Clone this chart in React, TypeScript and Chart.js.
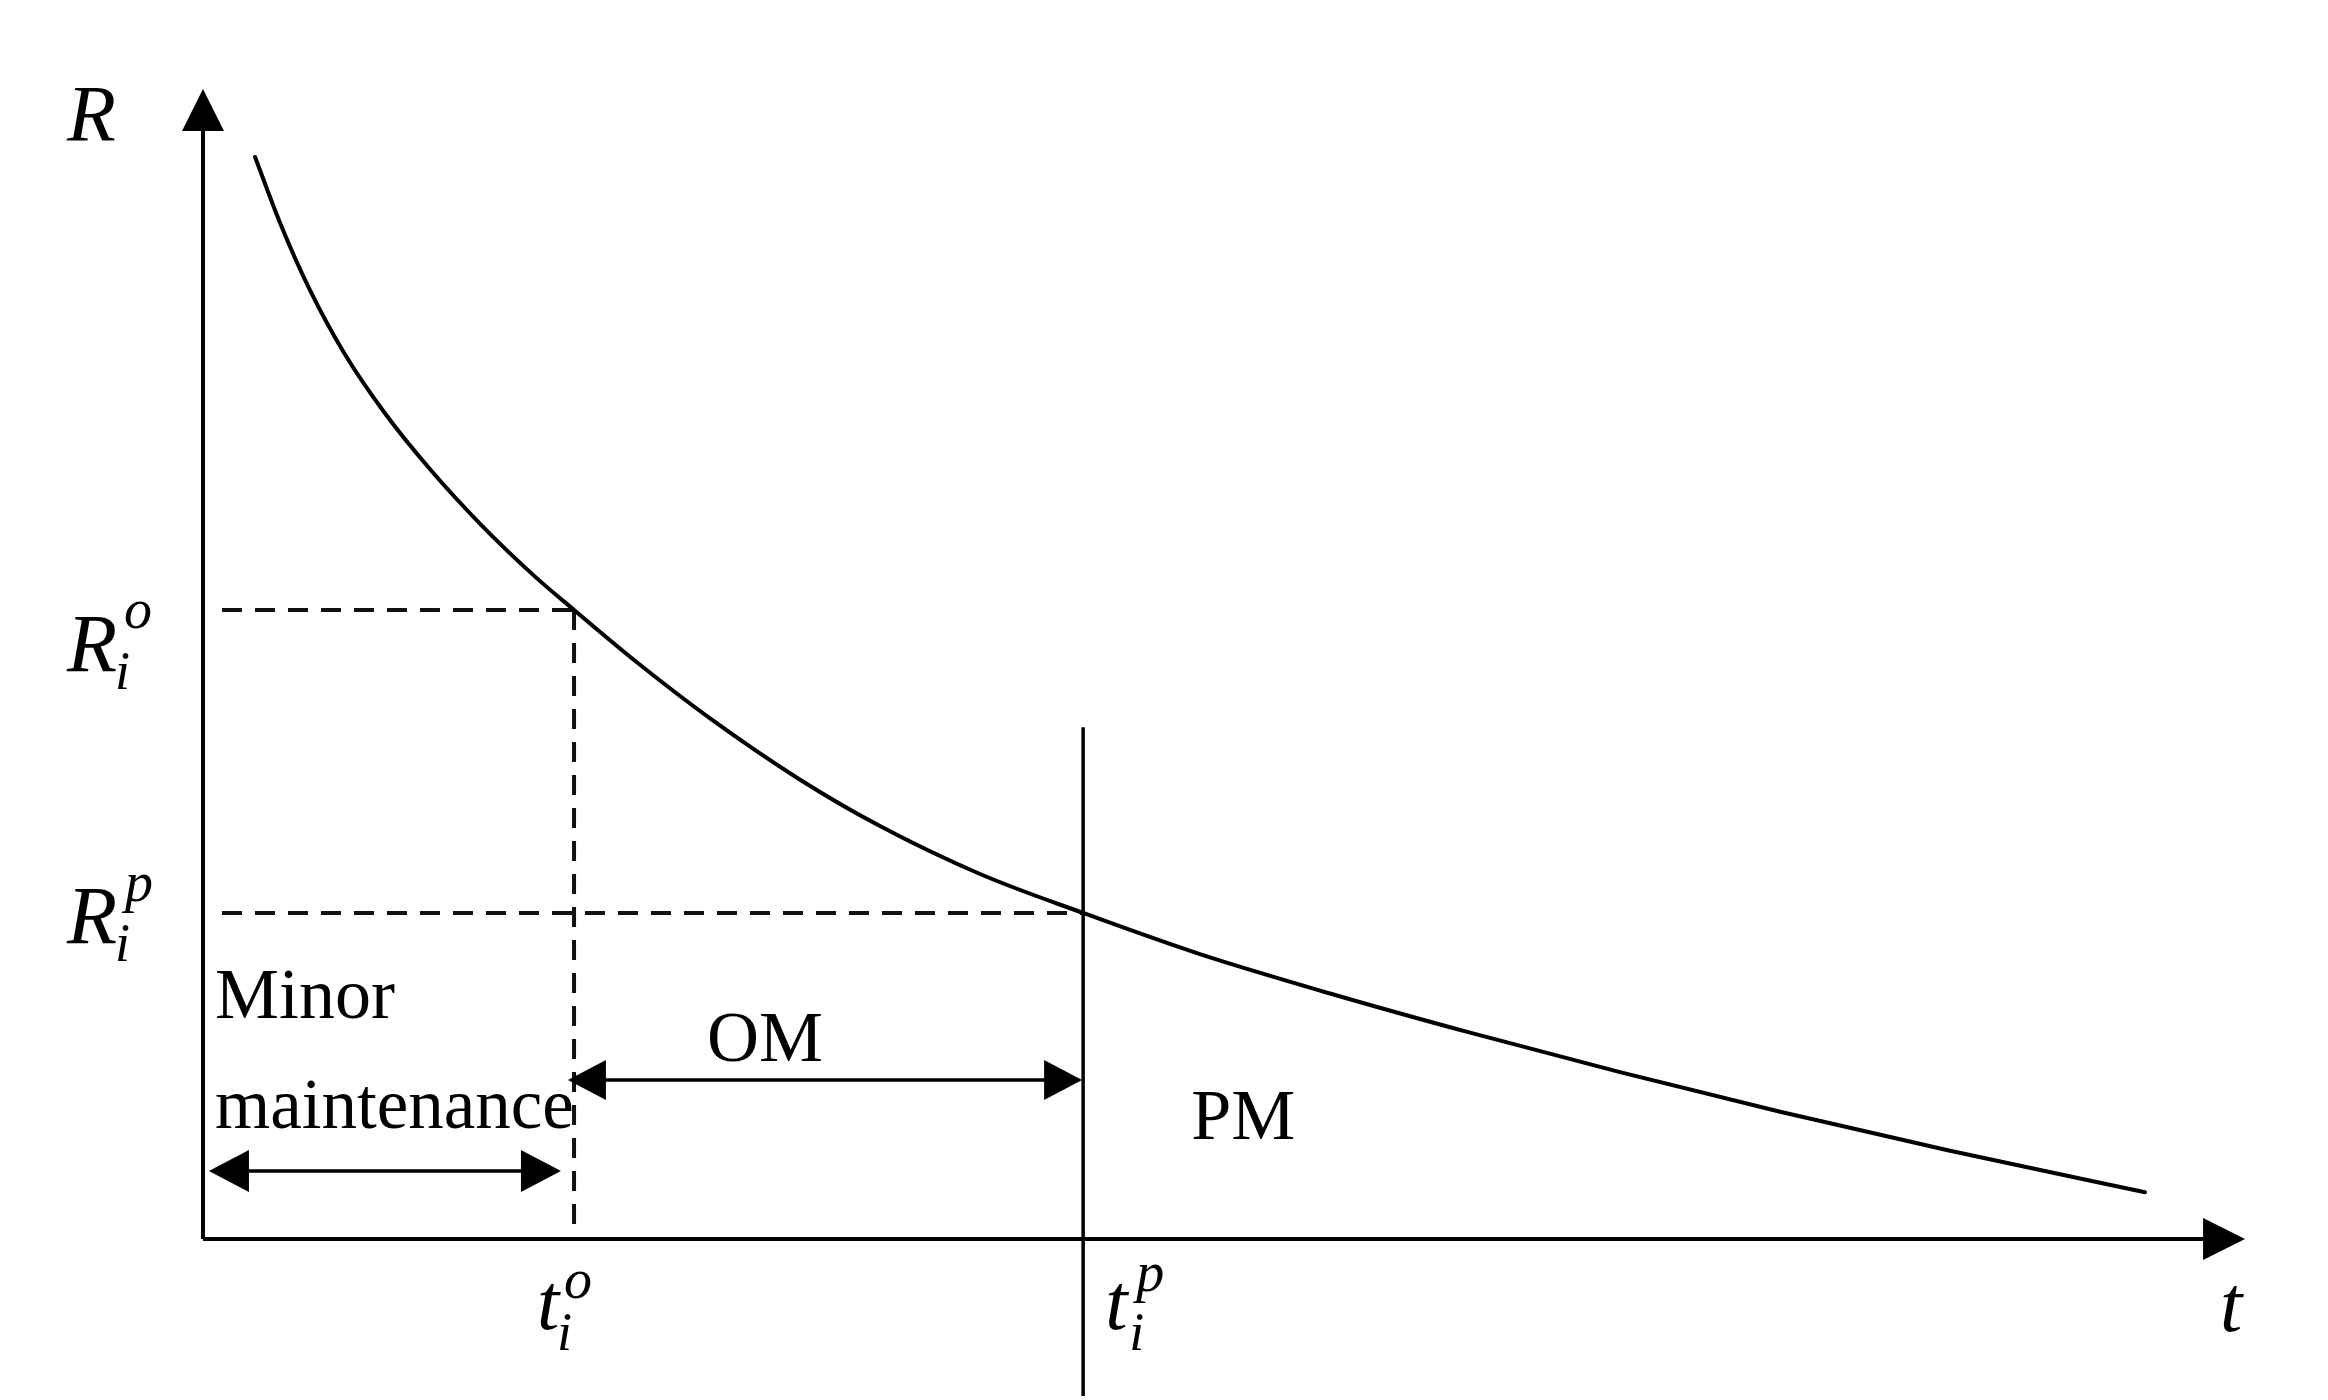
import React, { useEffect, useRef } from 'react';
import { Chart, registerables } from 'chart.js';

Chart.register(...registerables);

// Reliability curve R(t) (t and R in percent of axis length)
const curveT = [2.55, 3.77, 5.24, 6.95, 8.91, 11.12, 13.57, 16.26, 18.17, 21.4, 24.83, 29.24, 33.15, 38.05, 43.1, 48.82, 55.19, 62.05, 69.39, 77.23, 85.55, 95.1];
const curveR = [94.09, 88.38, 82.51, 76.93, 71.8, 66.93, 62.19, 57.6, 54.7, 49.93, 45.27, 39.94, 35.91, 31.74, 28.35, 24.77, 21.35, 17.94, 14.51, 11.07, 7.67, 4.07];

// Thresholds
const tO = 18.17;
const rO = 54.7;
const tP = 43.1;
const rP = 28.35;

// Axis extents
const tMax = 100;
const rMax = 100;
const dashStartT = 0.93;
const pmLineR = [44.5, -13.65];

// Interval arrows
const omArrowT = [17.87, 43.05];
const omArrowR = 13.83;
const minorArrowT = [0.29, 17.53];
const minorArrowR = 5.91;

// Text
const axisLabels = { r: 'R', t: 't' };
const regionLabels = { minor1: 'Minor', minor2: 'maintenance', om: 'OM', pm: 'PM' };
const thresholdLabels = { main: ['R', 'R', 't', 't'], sup: ['o', 'p', 'o', 'p'], sub: ['i', 'i', 'i', 'i'] };

const SERIF = '"Liberation Serif", "Times New Roman", serif';

const schematicPlugin = {
  id: 'schematic',
  afterDatasetsDraw(chart: any) {
    const ctx = chart.ctx as CanvasRenderingContext2D;
    const xs = chart.scales.x;
    const ys = chart.scales.y;
    const X = (v: number) => xs.getPixelForValue(v);
    const Y = (v: number) => ys.getPixelForValue(v);
    ctx.save();
    ctx.fillStyle = '#000';
    const tri = (p: number[][]) => {
      ctx.beginPath();
      ctx.moveTo(p[0][0], p[0][1]);
      ctx.lineTo(p[1][0], p[1][1]);
      ctx.lineTo(p[2][0], p[2][1]);
      ctx.closePath();
      ctx.fill();
    };
    const ox = X(0);
    const oy = Y(0);
    const yTip = Y(rMax);
    const xTip = X(tMax);
    // axis arrowheads
    tri([[ox, yTip], [ox - 21, yTip + 42], [ox + 21, yTip + 42]]);
    tri([[xTip, oy], [xTip - 42, oy - 21], [xTip - 42, oy + 21]]);
    // double arrows
    const dbl = (t0: number, t1: number, r: number, len: number, hw: number) => {
      const y = Y(r);
      const a = X(t0);
      const b = X(t1);
      tri([[a, y], [a + len, y - hw], [a + len, y + hw]]);
      tri([[b, y], [b - len, y - hw], [b - len, y + hw]]);
    };
    dbl(omArrowT[0], omArrowT[1], omArrowR, 38, 20);
    dbl(minorArrowT[0], minorArrowT[1], minorArrowR, 40, 21);

    ctx.textAlign = 'left';
    ctx.textBaseline = 'alphabetic';
    const it = (s: number) => `italic ${s}px ${SERIF}`;
    const up = (s: number) => `${s}px ${SERIF}`;
    const text = (s: string, font: string, x: number, y: number) => {
      ctx.font = font;
      ctx.fillText(s, x, y);
    };
    // axis labels
    text(axisLabels.r, it(80), ox - 136, yTip + 52);
    text(axisLabels.t, it(80), xTip - 25, oy + 92);

    // R_i^o
    const yo = Y(rO);
    text(thresholdLabels.main[0], it(82), ox - 136, yo + 61);
    text(thresholdLabels.sub[0], it(54), ox - 88, yo + 79);
    text(thresholdLabels.sup[0], it(56), ox - 79, yo + 18);
    // R_i^p
    const yp = Y(rP);
    text(thresholdLabels.main[1], it(82), ox - 136, yp + 30);
    text(thresholdLabels.sub[1], it(54), ox - 88, yp + 48);
    text(thresholdLabels.sup[1], it(56), ox - 78, yp - 12);
    // t_i^o
    const xo = X(tO);
    text(thresholdLabels.main[2], it(80), xo - 37, oy + 90);
    text(thresholdLabels.sup[2], it(56), xo - 10, oy + 59);
    text(thresholdLabels.sub[2], it(54), xo - 17, oy + 111);
    // t_i^p
    const xp = X(tP);
    text(thresholdLabels.main[3], it(80), xp + 22, oy + 90);
    text(thresholdLabels.sup[3], it(56), xp + 53, oy + 52);
    text(thresholdLabels.sub[3], it(54), xp + 46, oy + 111);

    // region labels
    text(regionLabels.minor1, up(72), ox + 12, Y(rP) + 105);
    text(regionLabels.minor2, up(71), ox + 12, Y(rP) + 215);
    text(regionLabels.om, up(72), X(tO) + 133, Y(omArrowR) - 19);
    text(regionLabels.pm, up(72), X(tP) + 108, Y(omArrowR) + 59);
    ctx.restore();
  },
};

export default function App() {
  const ref = useRef<HTMLCanvasElement | null>(null);
  useEffect(() => {
    if (!ref.current) return;
    const line = (data: { x: number; y: number }[], extra: any = {}) => ({
      data,
      showLine: true,
      borderColor: '#000',
      borderWidth: 3.5,
      pointRadius: 0,
      pointHoverRadius: 0,
      fill: false,
      ...extra,
    });
    const dashed = { borderDash: [20, 13], borderColor: '#111', borderWidth: 4 };
    const chart = new Chart(ref.current, {
      type: 'scatter',
      data: {
        datasets: [
          line(curveT.map((t, i) => ({ x: t, y: curveR[i] })), {
            cubicInterpolationMode: 'monotone',
            borderWidth: 4,
            borderJoinStyle: 'round',
            borderCapStyle: 'round',
          }),
          line([{ x: 0, y: 0 }, { x: 0, y: rMax - 1 }], { borderWidth: 4 }),
          line([{ x: 0, y: 0 }, { x: tMax - 1, y: 0 }], { borderWidth: 4 }),
          line([{ x: dashStartT, y: rO }, { x: tO, y: rO }], dashed),
          line([{ x: tO, y: rO }, { x: tO, y: 0 }], dashed),
          line([{ x: dashStartT, y: rP }, { x: tP, y: rP }], dashed),
          line([{ x: tP, y: pmLineR[0] }, { x: tP, y: pmLineR[1] }], { borderWidth: 3.5 }),
          line([{ x: omArrowT[0] + 1, y: omArrowR }, { x: omArrowT[1] - 1, y: omArrowR }], { borderWidth: 3.5 }),
          line([{ x: minorArrowT[0] + 1, y: minorArrowR }, { x: minorArrowT[1] - 1, y: minorArrowR }], { borderWidth: 3.5 }),
        ],
      },
      options: {
        animation: false,
        responsive: false,
        devicePixelRatio: 1,
        layout: { padding: 0 },
        plugins: { legend: { display: false }, tooltip: { enabled: false }, title: { display: false } },
        events: [],
        scales: {
          x: { type: 'linear', min: -9.94, max: 104.06, display: false },
          y: { type: 'linear', min: -14.0, max: 107.74, display: false },
        },
      },
      plugins: [schematicPlugin],
    } as any);
    return () => chart.destroy();
  }, []);
  return (
    <div style={{ position: 'absolute', left: 0, top: 0, width: 2328, height: 1400, background: '#fff' }}>
      <canvas ref={ref} width={2328} height={1400} style={{ width: 2328, height: 1400, display: 'block' }} />
    </div>
  );
}
